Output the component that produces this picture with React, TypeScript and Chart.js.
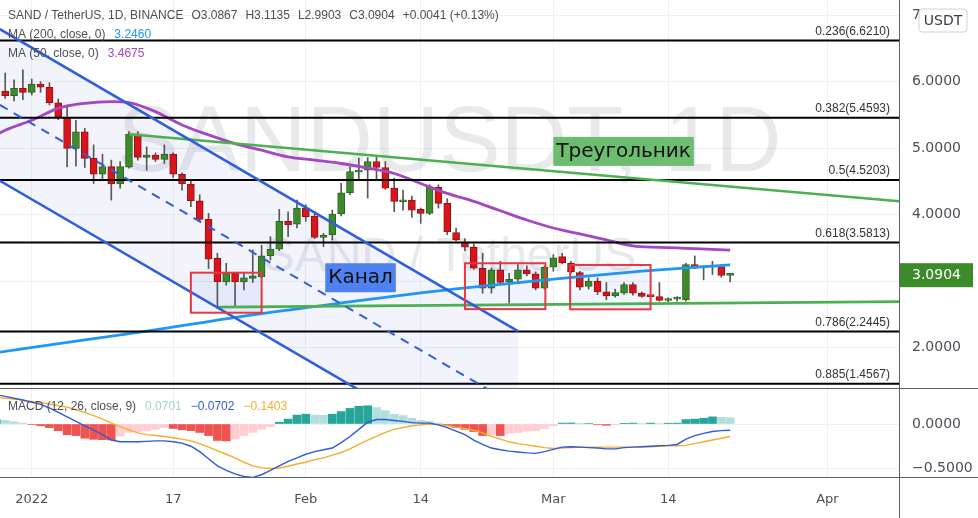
import React, { useEffect, useRef } from 'react';
import { Chart, registerables } from 'chart.js';

Chart.register(...registerables);

// ---------------- text ----------------
const symbolTitle = 'SAND / TetherUS, 1D, BINANCE';
const watermarkMain = 'SANDUSDT, 1D';
const watermarkSub = 'SAND / TetherUS';
const quoteCurrency = 'USDT';
const ma200Title = 'MA (200, close, 0)';
const ma50Title = 'MA (50, close, 0)';
const macdTitle = 'MACD (12, 26, close, 9)';

// ---------------- candles (days counted from 1 Jan 2022) ----------------
const firstCandleDay = -3; // 29 Dec 2021
const opens = [
  5.86, 5.79, 5.90, 5.84, 5.965, 5.916, 5.684, 5.465, 4.998, 5.248,
  4.848, 4.608, 4.722, 4.462, 4.713, 5.214, 4.863, 4.898, 4.833, 4.91,
  4.608, 4.462, 4.21, 3.93, 3.344, 2.99, 3.12, 2.99, 3.04, 3.07,
  3.38, 3.48, 3.90, 3.856, 4.10, 3.98, 3.66, 3.695, 4.01, 4.33,
  4.64, 4.67, 4.80, 4.71, 4.40, 4.195, 4.22, 4.08, 4.02, 4.41,
  4.17, 3.73, 3.59, 3.51, 3.195, 2.895, 3.17, 2.99, 3.03, 3.17,
  3.11, 2.895, 3.21, 3.37, 3.27, 3.13, 2.92, 3.00, 2.84, 2.78,
  2.82, 2.95, 2.82, 2.77, 2.77, 2.71, 2.73, 2.72, 3.25, 3.20,
  3.21, 3.22, 3.0867,
];
const highs = [
  6.13, 6.03, 6.18, 6.04, 6.00, 5.985, 5.74, 5.65, 5.42, 5.30,
  5.05, 4.91, 4.82, 4.80, 5.25, 5.25, 5.02, 4.93, 5.05, 4.93,
  4.63, 4.50, 4.30, 4.02, 3.42, 3.27, 3.13, 3.12, 3.47, 3.54,
  3.67, 4.08, 4.045, 4.22, 4.15, 4.05, 3.72, 4.07, 4.47, 4.72,
  4.85, 4.86, 4.87, 4.80, 4.55, 4.37, 4.28, 4.10, 4.45, 4.45,
  4.24, 3.80, 3.64, 3.56, 3.42, 3.20, 3.30, 3.12, 3.25, 3.23,
  3.14, 3.23, 3.40, 3.42, 3.30, 3.15, 3.05, 3.05, 2.98, 2.88,
  2.98, 2.98, 2.84, 2.775, 2.98, 2.75, 2.77, 3.27, 3.38, 3.23,
  3.30, 3.25, 3.1135,
];
const lows = [
  5.75, 5.71, 5.73, 5.80, 5.84, 5.65, 5.43, 4.72, 4.73, 4.71,
  4.47, 4.52, 4.22, 4.40, 4.70, 4.82, 4.67, 4.80, 4.77, 4.56,
  4.37, 4.12, 3.90, 3.19, 2.59, 2.94, 2.63, 2.87, 2.98, 3.05,
  3.32, 3.46, 3.67, 3.80, 3.90, 3.64, 3.52, 3.62, 3.98, 4.30,
  4.52, 4.25, 4.52, 4.38, 4.045, 4.07, 3.96, 3.87, 4.00, 4.10,
  3.70, 3.61, 3.46, 3.18, 2.82, 2.82, 2.95, 2.67, 2.97, 3.08,
  2.87, 2.88, 3.15, 3.26, 3.12, 2.87, 2.88, 2.80, 2.72, 2.76,
  2.80, 2.79, 2.76, 2.765, 2.70, 2.69, 2.70, 2.70, 3.19, 3.02,
  3.10, 3.06, 2.9903,
];
const closes = [
  5.79, 5.90, 5.84, 5.965, 5.916, 5.684, 5.465, 4.998, 5.248, 4.848,
  4.608, 4.722, 4.462, 4.722, 5.214, 4.863, 4.898, 4.833, 4.91, 4.608,
  4.462, 4.21, 3.93, 3.33, 2.992, 3.12, 2.99, 3.05, 3.08, 3.38,
  3.48, 3.90, 3.845, 4.10, 3.97, 3.66, 3.695, 4.01, 4.33, 4.65,
  4.67, 4.80, 4.71, 4.40, 4.20, 4.22, 4.07, 4.02, 4.41, 4.17,
  3.745, 3.62, 3.51, 3.195, 2.895, 3.17, 2.98, 3.03, 3.17, 3.11,
  2.895, 3.21, 3.35, 3.28, 3.14, 2.91, 3.00, 2.84, 2.78, 2.83,
  2.95, 2.82, 2.77, 2.768, 2.71, 2.74, 2.75, 3.25, 3.195, 3.22,
  3.225, 3.0863, 3.0904,
];

// ---------------- moving averages ----------------
const ma200Days = [-4, 6, 13, 24, 35, 47, 59, 69, 79];
const ma200Values = [1.925, 2.116, 2.25, 2.476, 2.672, 2.87, 3.03, 3.15, 3.246];
const ma50Days = [-4, -3, 0, 3, 6, 9, 11, 14, 17, 20, 23, 26, 29, 32, 35, 38, 41, 44, 47, 50, 53, 56, 59, 62, 65, 68, 71, 74, 77, 79];
const ma50Values = [5.2, 5.27, 5.42, 5.6, 5.675, 5.7, 5.685, 5.55, 5.35, 5.2, 5.07, 4.97, 4.87, 4.82, 4.77, 4.7, 4.62, 4.47, 4.32, 4.2, 4.06, 3.92, 3.8, 3.71, 3.62, 3.53, 3.51, 3.495, 3.48, 3.4675];

// ---------------- MACD (days -4 .. 79) ----------------
const firstMacdDay = -4;
const macdValues = [
  0.33, 0.31, 0.29, 0.27, 0.245, 0.22, 0.18, 0.13, 0.08, 0.03,
  -0.02, -0.07, -0.12, -0.18, -0.20, -0.20, -0.20, -0.195, -0.19, -0.19,
  -0.20, -0.215, -0.25, -0.31, -0.39, -0.47, -0.52, -0.56, -0.59, -0.60,
  -0.57, -0.52, -0.47, -0.42, -0.38, -0.34, -0.31, -0.29, -0.27, -0.21,
  -0.14, -0.06, 0.02, 0.05, 0.05, 0.04, 0.03, 0.015, 0.01, 0.01,
  -0.01, -0.04, -0.08, -0.12, -0.18, -0.23, -0.27, -0.29, -0.305, -0.315,
  -0.325, -0.33, -0.31, -0.285, -0.26, -0.255, -0.26, -0.265, -0.27, -0.28,
  -0.28, -0.265, -0.26, -0.255, -0.25, -0.245, -0.24, -0.23, -0.17, -0.13,
  -0.105, -0.085, -0.075, -0.0702,
];
const signalValues = [
  0.30, 0.29, 0.28, 0.265, 0.25, 0.24, 0.225, 0.205, 0.19, 0.16,
  0.13, 0.095, 0.055, 0.01, -0.03, -0.065, -0.10, -0.12, -0.13, -0.14,
  -0.155, -0.17, -0.19, -0.22, -0.26, -0.30, -0.34, -0.38, -0.43, -0.47,
  -0.49, -0.50, -0.495, -0.475, -0.45, -0.43, -0.40, -0.38, -0.35, -0.32,
  -0.28, -0.23, -0.18, -0.14, -0.095, -0.06, -0.04, -0.02, -0.01, 0.0,
  -0.005, -0.02, -0.035, -0.05, -0.07, -0.10, -0.14, -0.17, -0.20, -0.22,
  -0.235, -0.25, -0.265, -0.275, -0.27, -0.265, -0.26, -0.26, -0.26, -0.26,
  -0.26, -0.26, -0.26, -0.255, -0.255, -0.25, -0.245, -0.245, -0.24, -0.22,
  -0.20, -0.18, -0.16, -0.1403,
];
const histValues = [
  0.05, 0.04, 0.025, 0.01, -0.005, -0.02, -0.04, -0.075, -0.12, -0.13,
  -0.16, -0.172, -0.176, -0.18, -0.135, -0.095, -0.085, -0.075, -0.06, -0.04,
  -0.05, -0.065, -0.075, -0.095, -0.13, -0.185, -0.19, -0.17, -0.13, -0.095,
  -0.06, -0.03, 0.02, 0.055, 0.10, 0.11, 0.10, 0.098, 0.11, 0.14,
  0.175, 0.20, 0.205, 0.185, 0.15, 0.11, 0.095, 0.065, 0.04, 0.03,
  0.01, -0.02, -0.04, -0.06, -0.085, -0.13, -0.125, -0.13, -0.105, -0.095,
  -0.08, -0.075, -0.05, -0.02, 0.01, 0.012, 0.002, 0.005, -0.005, -0.015,
  -0.01, 0.008, 0.01, 0.005, 0.01, 0.005, 0.009, 0.01, 0.05, 0.055,
  0.065, 0.08, 0.075, 0.0701,
];

// ---------------- axes ----------------
const timeTickDays = [0, 16, 31, 44, 59, 72, 90];
const timeTickLabels = ['2022', '17', 'Feb', '14', 'Mar', '14', 'Apr'];
const priceTicks = [2, 3, 4, 5, 6, 7];
const macdTicks = [0, -0.5];

// ---------------- drawings ----------------
const fibRatios = [0.236, 0.382, 0.5, 0.618, 0.786, 0.885];
const fibPrices = [6.621, 5.4593, 4.5203, 3.5813, 2.2445, 1.4567];

const channelDays = [-3.6, 55];
const channelUpper = [6.79, 2.25];
const channelMiddle = [5.65, 1.11];
const channelLower = [4.51, -0.03];

const triangleUpperDays = [11, 100];
const triangleUpper = [5.21, 4.18];
const triangleLowerDays = [21, 100];
const triangleLower = [2.61, 2.695];

const boxStartDays = [18, 49, 60.9];
const boxEndDays = [26, 58.1, 70];
const boxTops = [3.128, 3.27, 3.244];
const boxBottoms = [2.526, 2.58, 2.577];

const noteTexts = ['Канал', 'Треугольник'];
const noteDays = [33.2, 59.0];
const notePrices = [3.27, 5.17];

// ---------------- view ----------------
const X_MIN = -3.59;
const X_MAX = 98.1;
const PRICE_MIN = 1.394;
const PRICE_MAX = 7.2286;
const MACD_MIN = -0.5955;
const MACD_MAX = 0.4045;
const AXIS_W = 79;

// ---------------- style ----------------
const UP = '#3d8a2a';
const UP_BORDER = '#2c6420';
const DOWN = '#d9151c';
const DOWN_BORDER = '#951010';
const WICK = '#575757';
const GRID = '#f0f1f4';
const AXIS_LINE = '#5d606b';
const TEXT = '#4d4f57';
const MA200_COLOR = '#2196f3';
const MA50_COLOR = '#a546c2';
const CHANNEL_COLOR = '#2f5fdc';
const CHANNEL_FILL = 'rgba(100,100,220,0.08)';
const TRIANGLE_COLOR = '#4caf50';
const BOX_STROKE = '#e53945';
const BOX_FILL = 'rgba(33,100,243,0.07)';
const NOTE_BG = ['#4f82f0', '#6cbd70'];
const MACD_COLOR = '#2f5bd8';
const SIGNAL_COLOR = '#f5ad2a';
const HIST_UP = '#26a69a';
const HIST_UP_WEAK = '#b2dfdb';
const HIST_DOWN = '#ef5350';
const HIST_DOWN_WEAK = '#ffcdd2';

const LEGEND_FONT = '12px "Liberation Sans", Arial, sans-serif';
const AXIS_FONT_FAMILY = '"DejaVu Sans", Verdana, sans-serif';

const candleDays = opens.map((_, i) => firstCandleDay + i);
const macdDays = macdValues.map((_, i) => firstMacdDay + i);
const xy = (xs: number[], ys: number[]) => xs.map((x, i) => ({ x, y: ys[i] }));
const fmt4 = (v: number) => (v < 0 ? '\u2212' : '') + Math.abs(v).toFixed(4);
const fmtSigned = (v: number, d: number) => (v >= 0 ? '+' : '\u2212') + Math.abs(v).toFixed(d);

function histColor(i: number) {
  const v = histValues[i];
  const prev = i > 0 ? histValues[i - 1] : v;
  if (v >= 0) return v >= prev ? HIST_UP : HIST_UP_WEAK;
  return v <= prev ? HIST_DOWN : HIST_DOWN_WEAK;
}

function drawRow(ctx: any, x: number, y: number, parts: [string, string][], gap: number) {
  ctx.font = LEGEND_FONT;
  ctx.textAlign = 'left';
  ctx.textBaseline = 'middle';
  let cx = x;
  parts.forEach(([t, c]) => {
    ctx.fillStyle = c;
    ctx.fillText(t, cx, y);
    cx += ctx.measureText(t).width + gap;
  });
}

function rrect(ctx: any, x: number, y: number, w: number, h: number, r: number) {
  ctx.beginPath();
  ctx.moveTo(x + r, y);
  ctx.lineTo(x + w - r, y);
  ctx.quadraticCurveTo(x + w, y, x + w, y + r);
  ctx.lineTo(x + w, y + h - r);
  ctx.quadraticCurveTo(x + w, y + h, x + w - r, y + h);
  ctx.lineTo(x + r, y + h);
  ctx.quadraticCurveTo(x, y + h, x, y + h - r);
  ctx.lineTo(x, y + r);
  ctx.quadraticCurveTo(x, y, x + r, y);
  ctx.closePath();
}

const timeAxisBase = (showLabels: boolean) => ({
  type: 'linear',
  min: X_MIN,
  max: X_MAX,
  offset: false,
  afterBuildTicks: (s: any) => {
    s.ticks = timeTickDays.map((v) => ({ value: v }));
  },
  ticks: {
    display: showLabels,
    autoSkip: false,
    maxRotation: 0,
    padding: 15,
    color: TEXT,
    font: { family: AXIS_FONT_FAMILY, size: 13 },
    callback: (_v: any, i: number) => timeTickLabels[i],
  },
  grid: { color: GRID, drawTicks: false, offset: false },
  border: { display: false },
  afterFit: (s: any) => {
    s.height = showLabels ? 41 : 0;
    s.paddingLeft = 0;
    s.paddingRight = 0;
  },
});

const valueAxis = (min: number, max: number, ticks: number[]) => ({
  type: 'linear',
  position: 'right',
  min,
  max,
  afterBuildTicks: (s: any) => {
    s.ticks = ticks.map((v) => ({ value: v }));
  },
  ticks: {
    autoSkip: false,
    padding: 13,
    color: TEXT,
    font: { family: AXIS_FONT_FAMILY, size: 14 },
    callback: (v: any) => fmt4(Number(v)),
  },
  grid: { color: GRID, drawTicks: false },
  border: { display: false },
  afterFit: (s: any) => {
    s.width = AXIS_W;
    s.paddingTop = 0;
    s.paddingBottom = 0;
  },
});

const pricePlugin = {
  id: 'priceOverlay',
  beforeDatasetsDraw(chart: any) {
    const { ctx, chartArea: a, scales } = chart;
    const x = scales.x;
    const y = scales.y;
    ctx.save();
    ctx.beginPath();
    ctx.rect(a.left, a.top, a.right - a.left, a.bottom - a.top);
    ctx.clip();
    const cx = (a.left + a.right) / 2;
    ctx.fillStyle = 'rgba(120,123,134,0.17)';
    ctx.textAlign = 'center';
    ctx.textBaseline = 'alphabetic';
    ctx.font = '92px "Liberation Sans", Arial, sans-serif';
    ctx.fillText(watermarkMain, cx, 171);
    ctx.font = '48px "Liberation Sans", Arial, sans-serif';
    ctx.fillText(watermarkSub, cx, 271);
    // box fills
    boxStartDays.forEach((d, i) => {
      const x1 = x.getPixelForValue(d);
      const x2 = x.getPixelForValue(boxEndDays[i]);
      const y1 = y.getPixelForValue(boxTops[i]);
      const y2 = y.getPixelForValue(boxBottoms[i]);
      ctx.fillStyle = BOX_FILL;
      ctx.fillRect(x1, y1, x2 - x1, y2 - y1);
    });
    ctx.restore();
  },
  afterDatasetsDraw(chart: any) {
    const { ctx, chartArea: a, scales } = chart;
    const x = scales.x;
    const y = scales.y;
    ctx.save();
    ctx.beginPath();
    ctx.rect(a.left, a.top, a.right - a.left, a.bottom - a.top);
    ctx.clip();
    // box outlines
    ctx.strokeStyle = BOX_STROKE;
    ctx.lineWidth = 2;
    boxStartDays.forEach((d, i) => {
      const x1 = x.getPixelForValue(d);
      const x2 = x.getPixelForValue(boxEndDays[i]);
      const y1 = y.getPixelForValue(boxTops[i]);
      const y2 = y.getPixelForValue(boxBottoms[i]);
      ctx.strokeRect(x1, y1, x2 - x1, y2 - y1);
    });
    // notes
    ctx.font = `20px ${AXIS_FONT_FAMILY}`;
    ctx.textBaseline = 'middle';
    ctx.textAlign = 'left';
    noteTexts.forEach((t, i) => {
      const nx = x.getPixelForValue(noteDays[i]);
      const ny = y.getPixelForValue(notePrices[i]);
      const w = ctx.measureText(t).width + 6;
      ctx.fillStyle = NOTE_BG[i];
      ctx.fillRect(nx, ny, w, 29);
      ctx.fillStyle = '#111';
      ctx.fillText(t, nx + 3, ny + 15);
    });
    // fib labels
    ctx.font = '12px "Liberation Sans", Arial, sans-serif';
    ctx.textAlign = 'right';
    ctx.textBaseline = 'bottom';
    ctx.fillStyle = '#333';
    fibPrices.forEach((p, i) => {
      const py = y.getPixelForValue(p);
      ctx.fillText(`${fibRatios[i]}(${p.toFixed(4)})`, a.right - 9, py - 3);
    });
    ctx.restore();
  },
  afterDraw(chart: any) {
    const { ctx, chartArea: a, scales } = chart;
    const y = scales.y;
    const n = closes.length - 1;
    ctx.save();
    // legend
    const change = closes[n] - closes[n - 1];
    const pct = (change / closes[n - 1]) * 100;
    drawRow(ctx, 8, 16, [
      [symbolTitle, TEXT],
      ['O' + opens[n].toFixed(4), TEXT],
      ['H' + highs[n].toFixed(4), TEXT],
      ['L' + lows[n].toFixed(4), TEXT],
      ['C' + closes[n].toFixed(4), TEXT],
      [`${fmtSigned(change, 4)} (${fmtSigned(pct, 2)}%)`, TEXT],
    ], 8);
    drawRow(ctx, 8, 35, [[ma200Title, TEXT], [ma200Values[ma200Values.length - 1].toFixed(4), MA200_COLOR]], 9);
    drawRow(ctx, 8, 54, [[ma50Title, TEXT], [ma50Values[ma50Values.length - 1].toFixed(4), MA50_COLOR]], 9);
    // last price label
    const py = y.getPixelForValue(closes[n]);
    ctx.fillStyle = closes[n] >= opens[n] ? UP : DOWN;
    ctx.fillRect(a.right, py - 12, 74, 24);
    ctx.fillStyle = '#fff';
    ctx.font = `14px ${AXIS_FONT_FAMILY}`;
    ctx.textAlign = 'left';
    ctx.textBaseline = 'middle';
    ctx.fillText(closes[n].toFixed(4), a.right + 13, py);
    // currency badge
    rrect(ctx, a.right + 20, 9, 48, 23, 3);
    ctx.fillStyle = '#fff';
    ctx.fill();
    ctx.strokeStyle = '#cfd2d9';
    ctx.lineWidth = 1;
    ctx.stroke();
    ctx.fillStyle = '#3a3c44';
    ctx.textAlign = 'center';
    ctx.fillText(quoteCurrency, a.right + 44, 21);
    // axis line
    ctx.strokeStyle = AXIS_LINE;
    ctx.beginPath();
    ctx.moveTo(a.right + 0.5, 0);
    ctx.lineTo(a.right + 0.5, chart.height);
    ctx.stroke();
    ctx.restore();
  },
};

const macdPlugin = {
  id: 'macdOverlay',
  afterDraw(chart: any) {
    const { ctx, chartArea: a } = chart;
    const n = macdValues.length - 1;
    ctx.save();
    drawRow(ctx, 8, 19, [
      [macdTitle, TEXT],
      [fmt4(histValues[n]), '#9fd3cc'],
      [fmt4(macdValues[n]), MACD_COLOR],
      [fmt4(signalValues[n]), SIGNAL_COLOR],
    ], 9);
    ctx.strokeStyle = AXIS_LINE;
    ctx.lineWidth = 1;
    ctx.beginPath();
    ctx.moveTo(0, 0.5);
    ctx.lineTo(chart.width, 0.5);
    ctx.moveTo(0, a.bottom + 0.5);
    ctx.lineTo(chart.width, a.bottom + 0.5);
    ctx.moveTo(a.right + 0.5, 0);
    ctx.lineTo(a.right + 0.5, chart.height);
    ctx.stroke();
    ctx.restore();
  },
};

const lineDs = (label: string, data: any[], color: string, width: number, order: number, extra: any = {}) => ({
  type: 'line',
  label,
  data,
  borderColor: color,
  borderWidth: width,
  pointRadius: 0,
  fill: false,
  order,
  ...extra,
});

function priceConfig(): any {
  return {
    type: 'bar',
    data: {
      datasets: [
        lineDs('channel area', xy(channelDays, channelUpper), 'rgba(0,0,0,0)', 0, 30, { fill: '+1', backgroundColor: CHANNEL_FILL }),
        lineDs('channel area base', xy(channelDays, channelLower), 'rgba(0,0,0,0)', 0, 29),
        {
          type: 'bar',
          label: 'wicks',
          data: candleDays.map((d, i) => ({ x: d, y: [lows[i], highs[i]] })),
          backgroundColor: WICK,
          barThickness: 1,
          grouped: false,
          order: 12,
        },
        {
          type: 'bar',
          label: 'SANDUSDT',
          data: candleDays.map((d, i) => ({ x: d, y: [opens[i], closes[i]] })),
          backgroundColor: (c: any) => (closes[c.dataIndex] >= opens[c.dataIndex] ? UP : DOWN),
          borderColor: (c: any) => (closes[c.dataIndex] >= opens[c.dataIndex] ? UP_BORDER : DOWN_BORDER),
          borderWidth: 1,
          borderSkipped: false,
          barThickness: 7,
          minBarLength: 2,
          grouped: false,
          order: 11,
        },
        lineDs('MA 200', xy(ma200Days, ma200Values), MA200_COLOR, 2.8, 8, { cubicInterpolationMode: 'monotone' }),
        lineDs('MA 50', xy(ma50Days, ma50Values), MA50_COLOR, 2.8, 8, { cubicInterpolationMode: 'monotone' }),
        ...fibPrices.map((p, i) => lineDs(`Fib ${fibRatios[i]}`, [{ x: X_MIN - 1, y: p }, { x: X_MAX + 1, y: p }], '#000', 2, 4)),
        lineDs('channel upper', xy(channelDays, channelUpper), CHANNEL_COLOR, 2.6, 3),
        lineDs('channel middle', xy(channelDays, channelMiddle), CHANNEL_COLOR, 2, 3, { borderDash: [9, 7] }),
        lineDs('channel lower', xy(channelDays, channelLower), CHANNEL_COLOR, 2.6, 3),
        lineDs('triangle upper', xy(triangleUpperDays, triangleUpper), TRIANGLE_COLOR, 2.6, 3),
        lineDs('triangle lower', xy(triangleLowerDays, triangleLower), TRIANGLE_COLOR, 2.6, 3),
      ],
    },
    options: {
      responsive: false,
      maintainAspectRatio: false,
      devicePixelRatio: 1,
      animation: false,
      events: [],
      layout: { padding: 0 },
      plugins: { legend: { display: false }, tooltip: { enabled: false } },
      scales: {
        x: timeAxisBase(false),
        y: valueAxis(PRICE_MIN, PRICE_MAX, priceTicks),
      },
    },
    plugins: [pricePlugin],
  };
}

function macdConfig(): any {
  return {
    type: 'bar',
    data: {
      datasets: [
        {
          type: 'bar',
          label: 'Histogram',
          data: macdDays.map((d, i) => ({ x: d, y: histValues[i] })),
          backgroundColor: (c: any) => histColor(c.dataIndex),
          barThickness: 8,
          grouped: false,
          order: 3,
        },
        lineDs('Signal', xy(macdDays, signalValues), SIGNAL_COLOR, 1.4, 2),
        lineDs('MACD', xy(macdDays, macdValues), MACD_COLOR, 1.4, 1),
      ],
    },
    options: {
      responsive: false,
      maintainAspectRatio: false,
      devicePixelRatio: 1,
      animation: false,
      events: [],
      layout: { padding: 0 },
      plugins: { legend: { display: false }, tooltip: { enabled: false } },
      scales: {
        x: timeAxisBase(true),
        y: valueAxis(MACD_MIN, MACD_MAX, macdTicks),
      },
    },
    plugins: [macdPlugin],
  };
}

export default function App() {
  const priceRef = useRef<HTMLCanvasElement>(null);
  const macdRef = useRef<HTMLCanvasElement>(null);
  useEffect(() => {
    const c1 = new Chart(priceRef.current as HTMLCanvasElement, priceConfig());
    const c2 = new Chart(macdRef.current as HTMLCanvasElement, macdConfig());
    return () => {
      c1.destroy();
      c2.destroy();
    };
  }, []);
  return (
    <div style={{ position: 'absolute', left: 0, top: 0, width: 978, height: 518, background: '#fff', overflow: 'hidden' }}>
      <canvas ref={priceRef} width={978} height={388} style={{ position: 'absolute', left: 0, top: 0, width: 978, height: 388 }} />
      <canvas ref={macdRef} width={978} height={130} style={{ position: 'absolute', left: 0, top: 388, width: 978, height: 130 }} />
    </div>
  );
}
